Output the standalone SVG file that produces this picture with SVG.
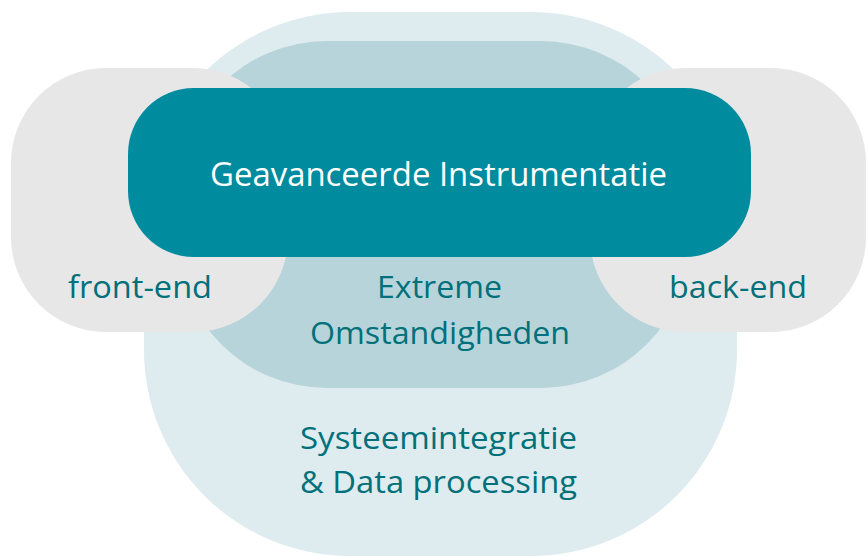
<svg xmlns="http://www.w3.org/2000/svg" width="868" height="557" viewBox="0 0 868 557">
<style>
.lbl{font-family:"Open Sans","Liberation Sans",sans-serif;font-size:31px;fill:#00707a;text-anchor:middle}
.wht{font-family:"Open Sans","Liberation Sans",sans-serif;font-size:33px;fill:#ffffff;text-anchor:middle}
</style>
<rect width="868" height="557" fill="#ffffff"/>
<g id="systeemintegratie">
<rect x="144" y="12" width="593" height="544" rx="206" ry="206" fill="#deebef"/>
</g>
<g id="extreme">
<rect x="177" y="41" width="514" height="347" rx="150" ry="150" fill="#b7d4da"/>
</g>
<g id="front-end">
<rect x="11" y="68" width="277" height="264" rx="95" ry="95" fill="#e7e7e7"/>
</g>
<g id="back-end">
<rect x="590" y="68" width="276" height="264" rx="95" ry="95" fill="#e7e7e7"/>
</g>
<g id="instrumentatie">
<rect x="128" y="88" width="623" height="169" rx="66" ry="66" fill="#018b9e"/>
<text class="wht" x="438.5" y="186" textLength="457" lengthAdjust="spacingAndGlyphs">Geavanceerde Instrumentatie</text>
</g>
<g id="labels">
<text class="lbl" x="140" y="298" textLength="144" lengthAdjust="spacingAndGlyphs">front-end</text>
<text class="lbl" x="738" y="298" textLength="138" lengthAdjust="spacingAndGlyphs">back-end</text>
<text class="lbl" x="439.5" y="298" textLength="125" lengthAdjust="spacingAndGlyphs">Extreme</text>
<text class="lbl" x="440" y="344" textLength="260" lengthAdjust="spacingAndGlyphs">Omstandigheden</text>
<text class="lbl" x="438.5" y="449" textLength="277" lengthAdjust="spacingAndGlyphs">Systeemintegratie</text>
<text class="lbl" x="438.5" y="493" textLength="277" lengthAdjust="spacingAndGlyphs">&amp; Data processing</text>
</g>
<g id="connectors"/>
</svg>
